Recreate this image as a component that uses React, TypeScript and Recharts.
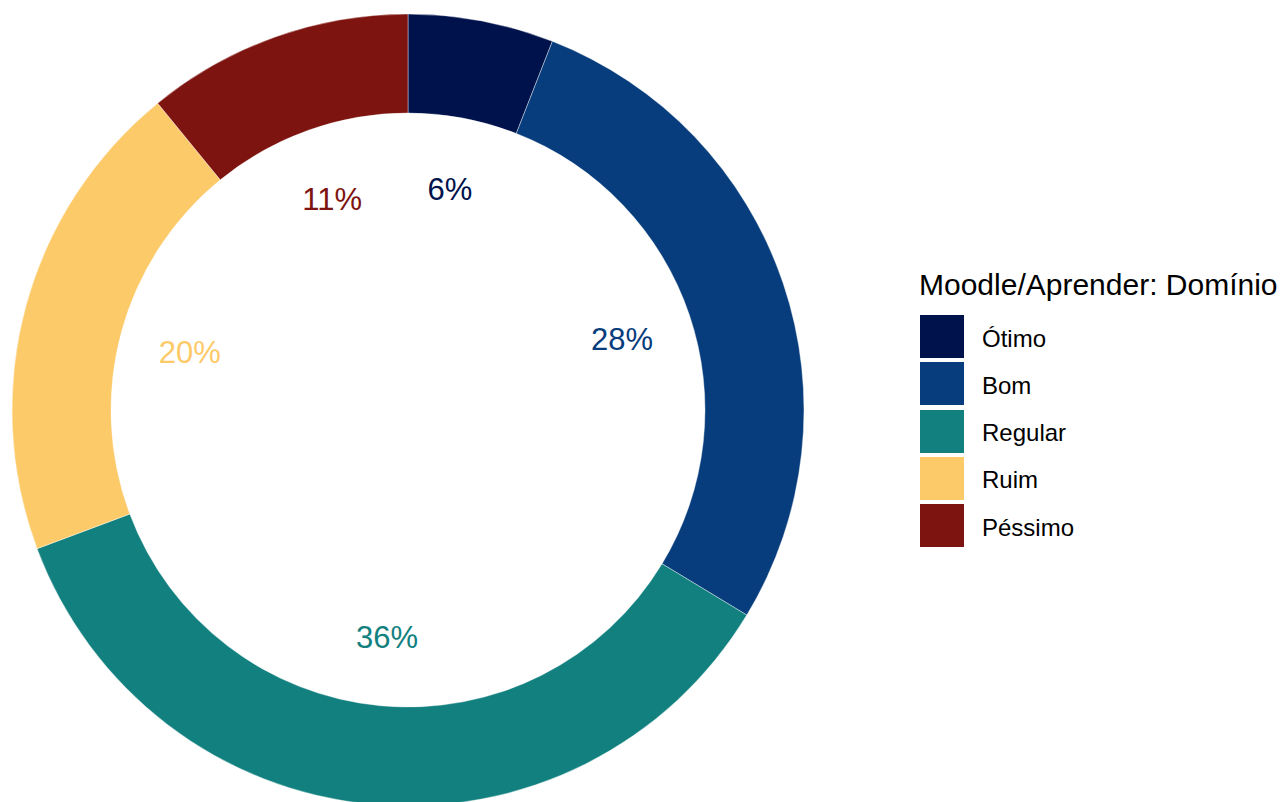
import React from 'react';
import { PieChart, Pie, Cell, Legend } from 'recharts';

// categories and counts read from the donut
const categories = ['Ótimo', 'Bom', 'Regular', 'Ruim', 'Péssimo'];
const counts = [6, 28, 36, 20, 11];
const colors = ['#00124c', '#073d7c', '#11807f', '#fdca69', '#7e140f'];
const legendTitle = 'Moodle/Aprender: Domínio';

const FONT = '"Liberation Sans", Arial, Helvetica, sans-serif';

const total = counts.reduce((a, b) => a + b, 0);
const data = categories.map((name, i) => ({ name, value: counts[i] }));

const RADIAN = Math.PI / 180;

const renderLabel = (props: any) => {
  const { cx, cy, midAngle, index, value } = props;
  const r = 226;
  const x = cx + r * Math.cos(-midAngle * RADIAN);
  const y = cy + r * Math.sin(-midAngle * RADIAN) + 2;
  return (
    <text
      x={x}
      y={y}
      fill={colors[index]}
      textAnchor="middle"
      dominantBaseline="central"
      fontSize={31}
      fontFamily={FONT}
    >
      {`${Math.round((value / total) * 100)}%`}
    </text>
  );
};

const renderLegend = () => (
  <div style={{ fontFamily: FONT, color: '#000' }}>
    <div style={{ fontSize: 30, lineHeight: '30px', marginBottom: 15, whiteSpace: 'nowrap' }}>{legendTitle}</div>
    {categories.map((c, i) => (
      <div key={c} style={{ display: 'flex', alignItems: 'center', height: 43, marginBottom: 4.3 }}>
        <div style={{ width: 44, height: 43, background: colors[i], marginLeft: 1 }} />
        <span style={{ fontSize: 24, marginLeft: 18, position: 'relative', top: 2 }}>{c}</span>
      </div>
    ))}
  </div>
);

export default function App() {
  return (
    <div style={{ width: 1279, height: 794, background: '#fff' }}>
      <PieChart width={1279} height={794}>
        <Pie
          data={data}
          dataKey="value"
          nameKey="name"
          cx={395}
          cy={397}
          innerRadius={297}
          outerRadius={396}
          startAngle={90}
          endAngle={-270}
          stroke="#ffffff"
          strokeWidth={0.4}
          label={renderLabel}
          labelLine={false}
          isAnimationActive={false}
        >
          {data.map((d, i) => (
            <Cell key={d.name} fill={colors[i]} />
          ))}
        </Pie>
        <Legend
          content={renderLegend}
          wrapperStyle={{ position: 'absolute', left: 911, top: 262, width: 370 }}
        />
      </PieChart>
    </div>
  );
}
